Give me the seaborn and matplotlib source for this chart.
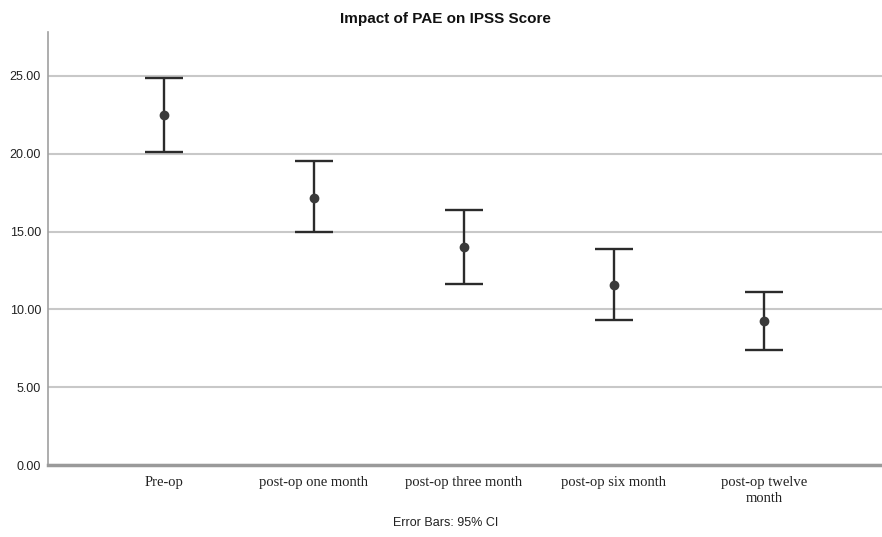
import matplotlib
matplotlib.use("Agg")
import matplotlib.pyplot as plt
import seaborn as sns
import numpy as np

# Mean IPSS score with 95% CI at each time point
timepoints = ["Pre-op", "post-op one month", "post-op three month",
              "post-op six month", "post-op twelve\nmonth"]
mean_ipss = [22.48, 17.18, 14.02, 11.58, 9.24]
ci_low = [20.10, 14.97, 11.66, 9.30, 7.38]
ci_high = [24.89, 19.52, 16.36, 13.86, 11.10]
yticks = [0, 5, 10, 15, 20, 25]

sns.set_style("white")
plt.rcParams['font.family'] = ['Liberation Sans', 'DejaVu Sans']

fig = plt.figure(figsize=(8.82, 5.37), dpi=100)
ax = fig.add_axes([0.0544, 0.134, 0.9456, 0.806])

sns.pointplot(x=timepoints, y=mean_ipss, errorbar=None, linestyle="none",
              color="#3a3a3a", markers="o", markersize=5, ax=ax, zorder=3)

# 95% CI error bars
mean_arr = np.array(mean_ipss)
yerr = [mean_arr - np.array(ci_low), np.array(ci_high) - mean_arr]
ax.errorbar(range(len(timepoints)), mean_arr, yerr=yerr, fmt="none",
            ecolor="#2b2b2b", elinewidth=1.7, capsize=14, capthick=1.7, zorder=2)

ax.set_xlim(-0.773, 4.787)
ax.set_ylim(0, 27.8)
ax.set_yticks(yticks)
ax.set_yticklabels([f"{v:.2f}" for v in yticks], fontsize=9, color="#222222")
ax.yaxis.grid(True, color="#c8c8c8", linewidth=1.5)
ax.set_axisbelow(True)
ax.tick_params(axis="both", length=0, pad=5)
ax.tick_params(axis="x", pad=8)
for lbl in ax.get_xticklabels():
    lbl.set_family("Liberation Serif")
    lbl.set_fontsize(10.5)
    lbl.set_color("#222222")
    lbl.set_linespacing(1.3)
ax.set_xlabel("")
ax.set_ylabel("")

for side in ["top", "right"]:
    ax.spines[side].set_visible(False)
ax.spines["left"].set_color("#a0a0a0")
ax.spines["left"].set_linewidth(1.2)
ax.spines["bottom"].set_color("#9a9a9a")
ax.spines["bottom"].set_linewidth(2.5)

fig.text(0.505, 0.965, "Impact of PAE on IPSS Score", ha="center", va="center",
         fontsize=11, fontweight="bold", color="#111111")
fig.text(0.505, 0.026, "Error Bars: 95% CI", ha="center", va="center",
         fontsize=9, color="#222222")

fig.savefig("out.png", dpi=100)
